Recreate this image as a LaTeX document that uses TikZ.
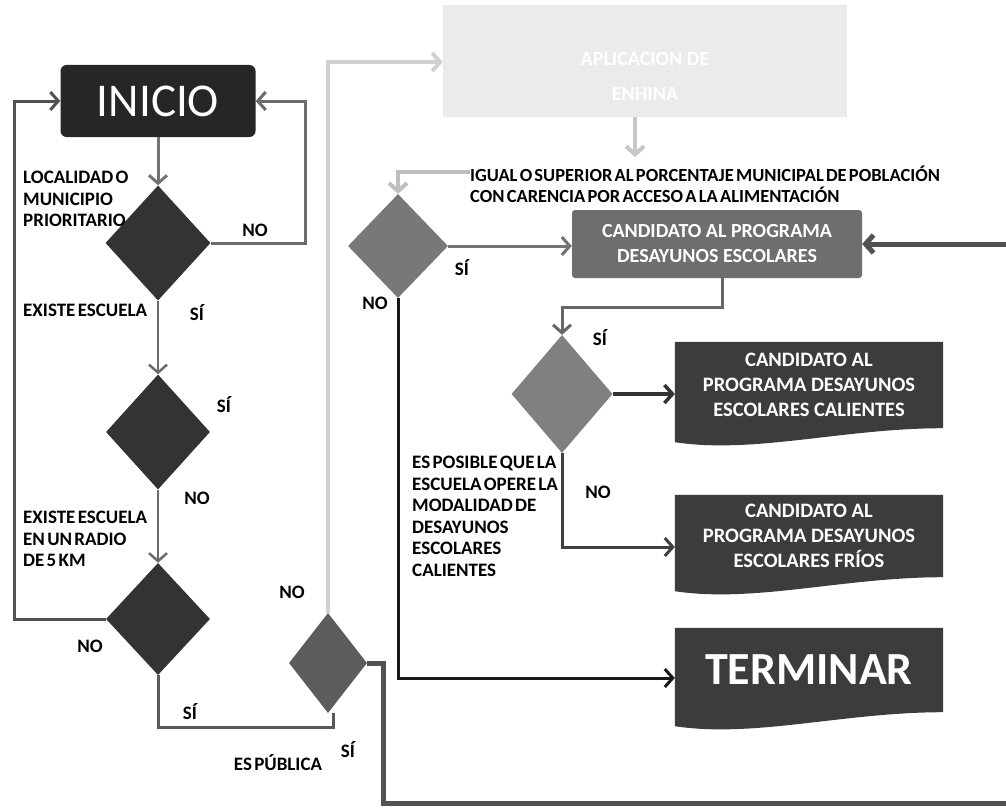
\documentclass[tikz,border=0pt]{standalone}
\usepackage{fontspec}
\setmainfont{Carlito}
\usetikzlibrary{shapes.geometric,arrows.meta,calc,backgrounds}
\definecolor{inic}{HTML}{262626}
\definecolor{dk}{HTML}{333333}
\definecolor{dfive}{HTML}{5C5C5C}
\definecolor{dthree}{HTML}{787878}
\definecolor{dsix}{HTML}{808080}
\definecolor{candc}{HTML}{6E6E6E}
\definecolor{docc}{HTML}{3C3C3C}
\definecolor{aplc}{HTML}{EBEBEB}
\newcommand{\mytightspace}{\spaceskip=0.12em\relax}
\newcommand{\docshape}[1]{%
  \fill[docc] (#1.north west) -- (#1.north east) -- (#1.south east)
    .. controls ($(#1.south east)+(-100,0)$) and ($(#1.south west)+(80,26)$) .. ($(#1.south west)+(0,14)$) -- cycle;}
\begin{document}
\begin{tikzpicture}[x=1pt,y=-1pt,
  lbl/.style={font=\bfseries\fontsize{19}{21.5}\selectfont\mytightspace, text=black, inner sep=0pt, align=left},
  dia/.style={diamond, draw=none, inner sep=0pt},
  arr/.style={-{Straight Barb[length=8pt,width=18pt]}},
  docbox/.style={rectangle, inner sep=0pt, minimum width=268pt, text=white, align=center,
    font=\bfseries\fontsize{20.5}{25}\selectfont},
  conn/.style={line width=#1, line join=miter},
  conn/.default=3pt]
\useasboundingbox (0,0) rectangle (1006,808);

% nodes
\node[rectangle, rounded corners=6pt, fill=inic, text=white, minimum width=195pt, minimum height=72pt,
  font=\fontsize{47}{47}\selectfont] (ini) at (158,101) {INICIO};
\node[dia, fill=dk, minimum width=105pt, minimum height=115pt] (d1) at (158,243) {};
\node[dia, fill=dk, minimum width=104pt, minimum height=115pt] (d2) at (158,432) {};
\node[dia, fill=dk, minimum width=104pt, minimum height=112pt] (d4) at (158,619) {};
\node[dia, fill=dfive, minimum width=78pt, minimum height=100pt] (d5) at (328,663) {};
\node[dia, fill=dthree, minimum width=100pt, minimum height=104pt] (d3) at (398,246) {};
\node[dia, fill=dsix, minimum width=101pt, minimum height=118pt] (d6) at (562,394) {};

\node[rectangle, fill=aplc, minimum width=404pt, minimum height=112pt] (apl) at (645,61) {};
\node[text=white, align=center, font=\bfseries\fontsize{20}{35}\selectfont] (apltxt) at (645,76) {APLICACION DE\\ENHINA};

\node[rectangle, rounded corners=3pt, fill=candc, minimum width=290pt, minimum height=68pt,
  text=white, align=center, font=\bfseries\fontsize{20}{25}\selectfont] (cand) at (717,244)
  {CANDIDATO AL PROGRAMA\\DESAYUNOS ESCOLARES};

\node[docbox, minimum height=86pt] (cal) at (809,385) {CANDIDATO AL\\PROGRAMA DESAYUNOS\\ESCOLARES CALIENTES};
\node[docbox, minimum height=82pt] (fri) at (809,536) {CANDIDATO AL\\PROGRAMA DESAYUNOS\\ESCOLARES FRÍOS};
\node[docbox, minimum height=84pt, font=\bfseries\fontsize{46}{46}\selectfont] (term) at (809,670) {TERMINAR};
\begin{scope}[on background layer]
  \fill[white] (0,0) rectangle (1006,808);
  \docshape{cal}
  \docshape{fri}
  \docshape{term}
\end{scope}

\node[lbl, anchor=north west, font=\bfseries\fontsize{18.5}{21}\selectfont\mytightspace] (igual) at (470,166)
  {IGUAL O SUPERIOR AL PORCENTAJE MUNICIPAL DE POBLACIÓN\\CON CARENCIA POR ACCESO A LA ALIMENTACIÓN};

% labels
\node[lbl, anchor=north west] (l1) at (23,171) {LOCALIDAD O\\MUNICIPIO\\PRIORITARIO};
\node[lbl] (l1no) at (255,230) {NO};
\node[lbl, anchor=west] (l2) at (23,310) {EXISTE ESCUELA};
\node[lbl] (l2si) at (197,313) {SÍ};
\node[lbl] (l3si) at (224,405) {SÍ};
\node[lbl] (l3no) at (197,498) {NO};
\node[lbl, anchor=north west] (l4) at (23,511) {EXISTE ESCUELA\\EN UN RADIO\\DE 5 KM};
\node[lbl] (l4no) at (90,646) {NO};
\node[lbl] (l4si) at (190,712) {SÍ};
\node[lbl] (l5no) at (292,592) {NO};
\node[lbl] (l5) at (278,763) {ES PÚBLICA};
\node[lbl] (l5si) at (348,750) {SÍ};
\node[lbl] (l6si) at (462,268) {SÍ};
\node[lbl] (l6no) at (375,303) {NO};
\node[lbl] (l7si) at (600,338) {SÍ};
\node[lbl] (l7no) at (598,492) {NO};
\node[lbl, anchor=north west] (l7) at (412,456)
  {ES POSIBLE QUE LA\\ESCUELA OPERE LA\\MODALIDAD DE\\DESAYUNOS\\ESCOLARES\\CALIENTES};

% helper coordinates at the right edge
\coordinate (rt) at (1012,244);
\coordinate (rb) at (1012,803);
\coordinate (aplbot) at (635,157);

% connectors
\draw[conn, draw=black!55, arr] (ini.south) -- (d1.north);
\draw[conn, draw=black!58, arr] (d1.east) -- (305,243) |- (ini.east);
\draw[conn=2.5pt, draw=black!58, arr] (d1.south) -- (d2.north);
\draw[conn=2.5pt, draw=black!58, arr] (d2.south) -- (d4.north);
\draw[conn, draw=black!68, arr] (d4.west) -- (14,619) |- (ini.west);
\draw[conn, draw=black!65] (d4.south) |- (333,727) -- (d5.south -| 333,0);
\draw[conn=4pt, draw=black!18, arr] (d5.north) |- ([yshift=-1pt]apl.west);
\draw[conn=4pt, draw=black!22, arr] (apl.south -| aplbot) -- (aplbot);
\draw[conn=4pt, draw=black!25, arr] (igual.west |- 0,172) -| (d3.north);
\draw[conn, draw=black!55, arr] (d3.east) -- (d3.east -| cand.west);
\draw[conn=5pt, draw=black!68, arr] (d5.east) -- (383,663) |- (rb) -- (rt) -- (cand.east);
\draw[conn, draw=black!60, arr] ([xshift=5pt]cand.south) |- (562,307) -- (d6.north);
\draw[conn=3.5pt, draw=black!80, arr] (d6.east) -- (d6.east -| cal.west);
\draw[conn, draw=black!75, arr] (d6.south) |- ([yshift=-11pt]fri.west);
\draw[conn, draw=black!90, arr] (d3.south) |- ([yshift=-8pt]term.west);
\end{tikzpicture}
\end{document}
